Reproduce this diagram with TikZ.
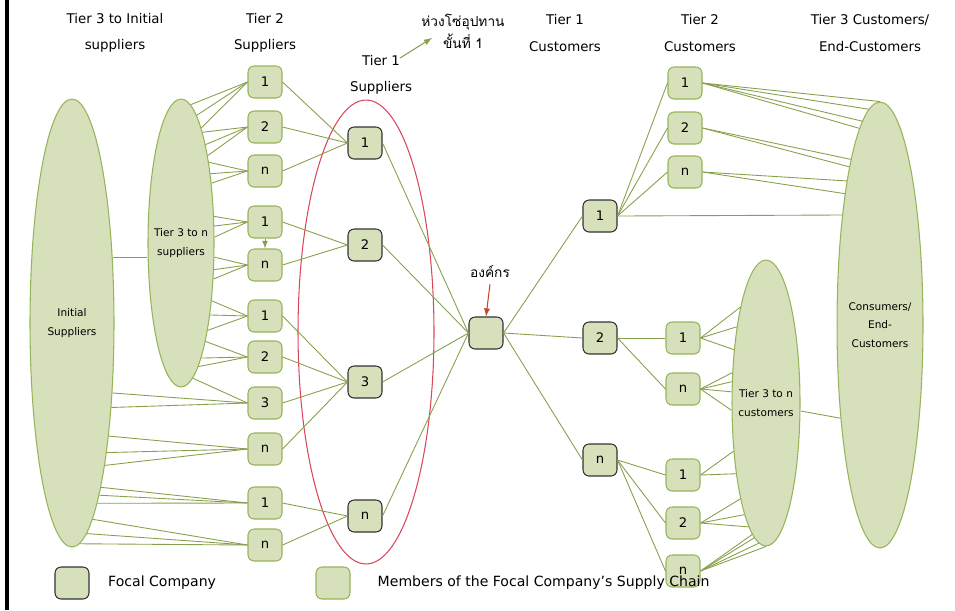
\documentclass[tikz,border=0pt]{standalone}
\usepackage{fontspec}
\setmainfont{DejaVu Sans}
\newfontfamily\thaifont[Script=Thai]{Loma}
\usetikzlibrary{shapes.geometric, arrows, positioning, calc}

\definecolor{boxfill}{RGB}{214,224,186}
\definecolor{boxline}{RGB}{150,180,90}
\definecolor{linkgreen}{RGB}{135,160,75}
\definecolor{tierred}{RGB}{220,70,90}
\definecolor{arrowred}{RGB}{200,70,40}

\begin{document}
\begin{tikzpicture}[x=0.02cm, y=-0.02cm,
  member/.style={rectangle, rounded corners=3.5pt, draw=boxline, fill=boxfill, line width=0.6pt, minimum width=0.68cm, minimum height=0.64cm, inner sep=0pt, font=\fontsize{7.5}{8}\selectfont},
  focal/.style={member, draw=black!80},
  group/.style={ellipse, draw=boxline, fill=boxfill, line width=0.6pt, inner sep=0pt},
  grouptext/.style={font=\fontsize{6}{10.5}\selectfont, align=center},
  link/.style={linkgreen, line width=0.5pt},
  head/.style={align=center, font=\fontsize{7.6}{15}\selectfont}]
\useasboundingbox (0,0) rectangle (955,610);
\draw[line width=1.8pt] (7,0) -- (7,610);

% column titles
\node[head] (h3s) at (115,33) {Tier 3 to Initial\\suppliers};
\node[head] (h2s) at (265,33) {Tier 2\\Suppliers};
\node[head] (h1s) at (381,75) {Tier 1\\Suppliers};
\node[align=center, font=\thaifont\fontsize{7.8}{12.5}\selectfont] (thai) at (463,31) {ห่วงโซ่อุปทาน\\ขั้นที่ 1};
\node[head] (h1c) at (565,33) {Tier 1\\Customers};
\node[head] (h2c) at (700,33) {Tier 2\\Customers};
\node[head] (h3c) at (870,33) {Tier 3 Customers/\\End-Customers};
\coordinate (tipfoot) at (400,58);
\coordinate (tiphead) at (432,38);
\draw[linkgreen, line width=0.6pt, -latex] (tipfoot) -- (tiphead);

% supplier side
\node[ellipse, draw=tierred, line width=0.6pt, minimum width=2.72cm, minimum height=9.28cm] (ring) at (366,332) {};
\node[group, minimum width=1.68cm, minimum height=8.96cm, label={[grouptext]center:Initial\\Suppliers}] (init) at (72,323) {};
\node[group, minimum width=1.32cm, minimum height=5.76cm, label={[grouptext]center:Tier 3 to n\\suppliers}] (t3s) at (181,243) {};

\foreach \name/\y/\t in {s2a/82/1, s2b/127/2, s2c/171/n, s2d/222/1, s2e/265/n, s2f/316/1, s2g/357/2, s2h/403/3, s2i/449/n, s2j/503/1, s2k/545/n}
  \node[member] (\name) at (265,\y) {\t};
\foreach \name/\y/\t in {s1a/143/1, s1b/245/2, s1c/382/3, s1d/516/n}
  \node[focal] (\name) at (365,\y) {\t};

\node[focal] (focal) at (486,333) {};
\node[font=\thaifont\fontsize{7.8}{9}\selectfont] (orglab) at (490,272) {องค์กร};
\draw[arrowred, line width=0.6pt, -latex] (orglab.south) -- (focal.north);

% customer side
\node[group, minimum width=1.72cm, minimum height=8.92cm, label={[grouptext]center:Consumers/\\End-\\Customers}] (cons) at (880,325) {};
\node[group, minimum width=1.36cm, minimum height=5.72cm, label={[grouptext]center:Tier 3 to n\\customers}] (t3c) at (766,403) {};

\foreach \name/\y/\t in {c1a/216/1, c1b/338/2, c1c/460/n}
  \node[focal] (\name) at (600,\y) {\t};
\foreach \name/\x/\y/\t in {c2a/685/83/1, c2b/685/128/2, c2c/685/172/n, c2d/683/338/1, c2e/683/389/n, c2f/683/475/1, c2g/683/523/2, c2h/683/571/n}
  \node[member] (\name) at (\x,\y) {\t};

% links, suppliers
\draw[link] (init.58) -- (init.58 -| t3s.west);
\foreach \n/\angs in {s2a/{86,83,80}, s2b/{79,76,73}, s2c/{71,67,63}, s2d/{39,27,10}, s2e/{-23,-39,-48}, s2f/{-62,-68,-73}, s2g/{-76,-80,-82}, s2h/{-85}}
  \foreach \a in \angs
    \draw[link] (t3s.\a) -- (\n.west);
\foreach \n/\angs in {s2h/{-60,-65}, s2i/{-72,-75,-77}, s2j/{-80,-81,-82}, s2k/{-84,-86,-88}}
  \foreach \a in \angs
    \draw[link] (init.\a) -- (\n.west);
\draw[link, -latex] (s2d.south) -- (s2e.north);
\foreach \from/\to in {s2a/s1a, s2b/s1a, s2c/s1a, s2d/s1b, s2e/s1b, s2f/s1c, s2g/s1c, s2h/s1c, s2i/s1c, s2j/s1d, s2k/s1d}
  \draw[link] (\from.east) -- (\to.west);
\foreach \from in {s1a, s1b, s1c, s1d}
  \draw[link] (\from.east) -- (focal.west);

% links, customers
\foreach \to in {c1a, c1b, c1c}
  \draw[link] (focal.east) -- (\to.west);
\foreach \from/\to in {c1a/c2a, c1a/c2b, c1a/c2c, c1b/c2d, c1b/c2e, c1c/c2f, c1c/c2g, c1c/c2h}
  \draw[link] (\from.east) -- (\to.west);
\draw[link] (c1a.east) -- (cons.109);
\foreach \n/\angs in {c2a/{90,93,95,96.5}, c2b/{100,101.5}, c2c/{103,105}}
  \foreach \a in \angs
    \draw[link] (\n.east) -- (cons.\a);
\foreach \n/\angs in {c2d/{105.5,111,121}, c2e/{138,148,162,192}, c2f/{236,247}, c2g/{255.5,259,262}, c2h/{264,265.5,267,270}}
  \foreach \a in \angs
    \draw[link] (\n.east) -- (t3c.\a);
\draw[link] (t3c.-13) -- (cons.247);

% key
\node[focal] (keyfocal) at (72,583) {};
\node[right=0.25cm of keyfocal, font=\fontsize{8}{9}\selectfont] (keyfocaltxt) {Focal Company};
\node[member] (keymember) at (333,583) {};
\node[right=0.42cm of keymember, font=\fontsize{8}{9}\selectfont] (keymembertxt) {Members of the Focal Company's Supply Chain};
\end{tikzpicture}
\end{document}
